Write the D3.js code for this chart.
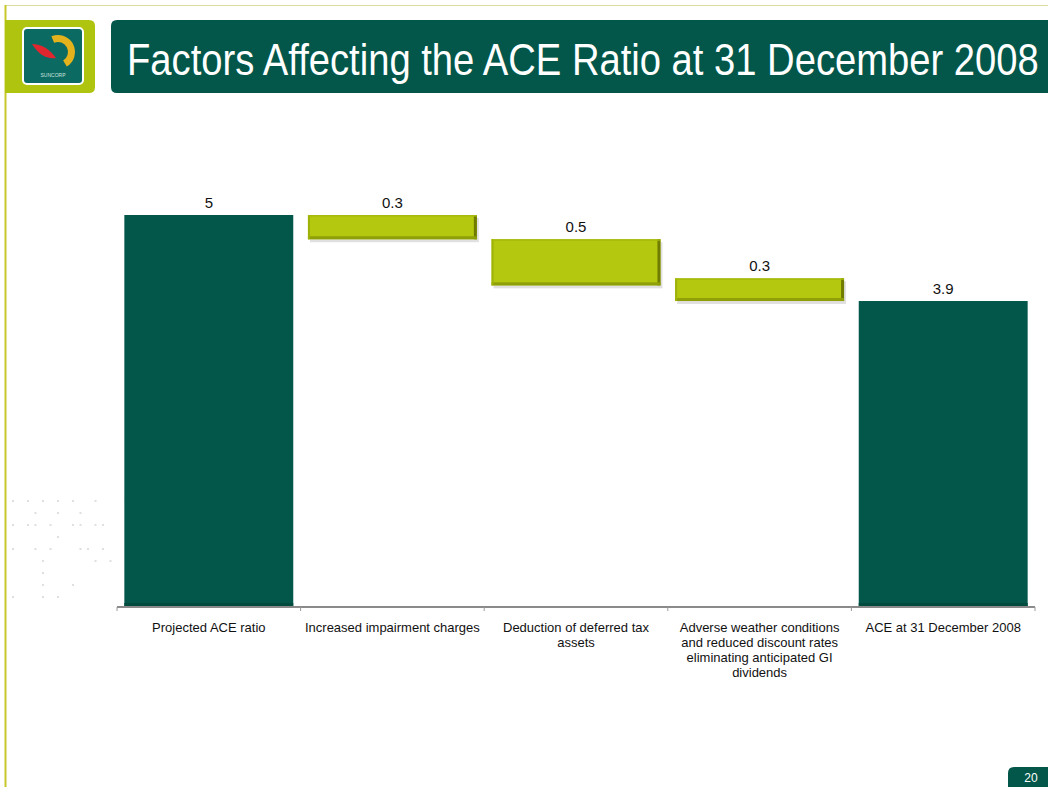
<!DOCTYPE html>
<html>
<head>
<meta charset="utf-8">
<script src="https://cdn.jsdelivr.net/npm/d3@7"></script>
<style>
  html, body { margin: 0; padding: 0; background: #ffffff; }
  svg { display: block; }
  text { font-family: Arial, "Liberation Sans", sans-serif; }
</style>
</head>
<body>
<svg id="chart" width="1048" height="787"></svg>
<script>
// ---- data ----
const title = "Factors Affecting the ACE Ratio at 31 December 2008";
const categories = [
  "Projected ACE ratio",
  "Increased impairment charges",
  "Deduction of deferred tax\nassets",
  "Adverse weather conditions\nand reduced discount rates\neliminating anticipated GI\ndividends",
  "ACE at 31 December 2008"
];
const valueLabels = ["5", "0.3", "0.5", "0.3", "3.9"];
// bar extents (ratio units)
const barTop    = [5.0, 5.0, 4.69, 4.19, 3.9];
const barBottom = [0.0, 4.69, 4.10, 3.90, 0.0];
const barKind   = ["total", "step", "step", "step", "total"];
const pageNumber = "20";

// ---- setup ----
const W = 1048, H = 787;
const svg = d3.select("#chart");
const darkGreen = "#02574a";
const olive = "#b3c80f";

// frame lines
svg.append("line").attr("x1", 5).attr("x2", W).attr("y1", 5.5).attr("y2", 5.5)
  .attr("stroke", "#dcdca0").attr("stroke-width", 1);
svg.append("line").attr("x1", 5.5).attr("x2", 5.5).attr("y1", 5).attr("y2", H)
  .attr("stroke", "#c8c82a").attr("stroke-width", 2);

// logo block
svg.append("path")
  .attr("d", "M5,20 H89 Q95,20 95,26 V87 Q95,93 89,93 H5 Z")
  .attr("fill", "#aec40e");
const logo = svg.append("g");
logo.append("rect").attr("x", 23).attr("y", 28).attr("width", 60).attr("height", 56)
  .attr("rx", 4).attr("fill", "#0b6a62").attr("stroke", "#ffffff").attr("stroke-width", 2);
const arc = d3.arc().innerRadius(10).outerRadius(17)
  .startAngle(-0.4).endAngle(2.6);
logo.append("path").attr("d", arc()).attr("transform", "translate(58,52)")
  .attr("fill", "#e3b21c");
logo.append("path").attr("d", "M32,44 Q46,44 56,58 Q42,60 32,44 Z").attr("fill", "#e0262e");
logo.append("text").attr("x", 53).attr("y", 77).attr("text-anchor", "middle")
  .attr("font-size", 5).attr("fill", "#cfe3df").text("SUNCORP");

// title block
svg.append("path")
  .attr("d", `M117,20 H${W} V93 H117 Q111,93 111,87 V26 Q111,20 117,20 Z`)
  .attr("fill", darkGreen);
const titleText = svg.append("text")
  .attr("x", 0).attr("y", 0)
  .attr("font-family", "'Liberation Sans Narrow', 'Arial Narrow', Arial, sans-serif")
  .attr("font-size", 45)
  .attr("fill", "#ffffff")
  .text(title);
const natural = titleText.node().getComputedTextLength();
const sx = 912 / natural;
titleText.attr("transform", `translate(127,75) scale(${sx},1)`);

// faint decorative dots at left
const dotRows = ["x.x.x.x.x..x...x", "...x..x..x......", "x.xx.x..xx.xx...", "......x.........", "x..x.x...xx.x...", "....x......x.x..", "....x...........", "....x...x.......", "x...x.x........."];
dotRows.forEach((row, r) => {
  row.split("").forEach((c, i) => {
    if (c === "x") svg.append("rect").attr("x", 12 + i * 7.5).attr("y", 500 + r * 12)
      .attr("width", 2).attr("height", 2).attr("fill", "#e0e0e0");
  });
});

// ---- scales ----
const x = d3.scaleBand().domain(categories).range([117, 1035])
  .paddingInner(0.08).paddingOuter(0.04);
const y = d3.scaleLinear().domain([0, 5]).range([606, 215]);

const data = categories.map((c, i) => ({
  cat: c, label: valueLabels[i], top: barTop[i], bottom: barBottom[i], kind: barKind[i]
}));

const g = svg.append("g");
// step bars with bevel + shadow
data.filter(d => d.kind === "step").forEach(d => {
  const x0 = x(d.cat), bw = x.bandwidth();
  const y0 = y(d.top), y1 = y(d.bottom);
  g.append("rect").attr("x", x0 + 2).attr("y", y0 + 3).attr("width", bw).attr("height", y1 - y0)
    .attr("fill", "#000").attr("opacity", 0.12);
  g.append("rect").attr("x", x0).attr("y", y0).attr("width", bw).attr("height", y1 - y0)
    .attr("fill", olive);
  g.append("rect").attr("x", x0 + bw - 3).attr("y", y0).attr("width", 3).attr("height", y1 - y0)
    .attr("fill", "#6f7c00");
  g.append("rect").attr("x", x0).attr("y", y1 - 3).attr("width", bw).attr("height", 3)
    .attr("fill", "#8e9f08");
  g.append("rect").attr("x", x0).attr("y", y0).attr("width", 2).attr("height", y1 - y0)
    .attr("fill", "#9fb20a");
  g.append("rect").attr("x", x0).attr("y", y0).attr("width", bw).attr("height", 1.5)
    .attr("fill", "#a6b90c");
});

// total bars
data.filter(d => d.kind === "total").forEach(d => {
  const x0 = x(d.cat), bw = x.bandwidth();
  g.append("rect").attr("x", x0).attr("y", y(d.top)).attr("width", bw)
    .attr("height", y(d.bottom) - y(d.top)).attr("fill", darkGreen);
  g.append("rect").attr("x", x0).attr("y", y(d.bottom) - 3).attr("width", bw).attr("height", 3)
    .attr("fill", "#014a3e");
});

// value labels
svg.append("g").selectAll("text").data(data).join("text")
  .attr("x", d => x(d.cat) + x.bandwidth() / 2)
  .attr("y", d => y(d.top) - 7)
  .attr("text-anchor", "middle")
  .attr("font-size", 15)
  .attr("fill", "#111")
  .text(d => d.label);

// axis
const step = x.step();
const left = x(categories[0]) - step * x.paddingOuter();
const right = x(categories[categories.length - 1]) + x.bandwidth() + step * x.paddingOuter();
svg.append("line").attr("x1", left).attr("x2", right).attr("y1", 607).attr("y2", 607)
  .attr("stroke", "#8a8a8a").attr("stroke-width", 2);
const ticks = d3.range(categories.length + 1).map(i => left + i * step);
svg.append("g").selectAll("line").data(ticks).join("line")
  .attr("x1", d => d).attr("x2", d => d).attr("y1", 607).attr("y2", 611)
  .attr("stroke", "#9a9a9a").attr("stroke-width", 1);

// category labels
const catG = svg.append("g").selectAll("text").data(categories).join("text")
  .attr("text-anchor", "middle")
  .attr("font-size", 13)
  .attr("fill", "#111");
catG.each(function(c) {
  const t = d3.select(this);
  c.split("\n").forEach((line, i) => {
    t.append("tspan").attr("x", x(c) + x.bandwidth() / 2).attr("y", 632 + i * 15).text(line);
  });
});

// page number
svg.append("path")
  .attr("d", `M1014,767 H${W} V787 H1008 V773 Q1008,767 1014,767 Z`)
  .attr("fill", darkGreen);
svg.append("text").attr("x", 1031).attr("y", 782).attr("text-anchor", "middle")
  .attr("font-size", 12).attr("fill", "#ffffff").text(pageNumber);
</script>
</body>
</html>
